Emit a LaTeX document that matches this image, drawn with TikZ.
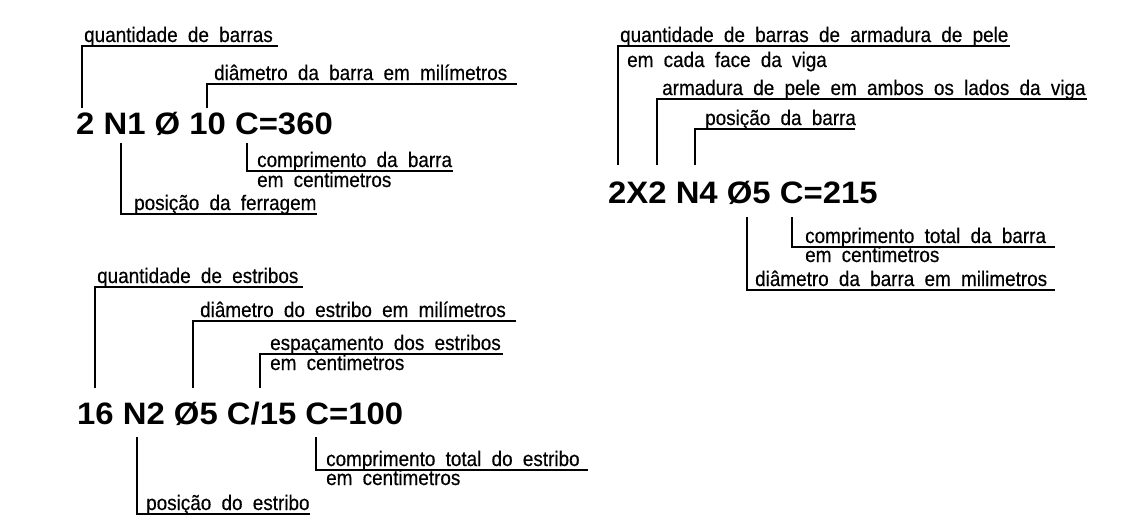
\documentclass[tikz,border=0pt]{standalone}
\usepackage{fontspec}
\setmainfont{Liberation Sans}
\newfontfamily\cadfont[FakeStretch=0.9, WordSpace=1.95, FakeBold=0.4]{Liberation Sans}
\newfontfamily\codfont[FakeStretch=1.06]{Liberation Sans}
\usetikzlibrary{calc}
\tikzset{
	lbl/.style={font=\cadfont\fontsize{21}{21}\selectfont, inner sep=0, anchor=base west},
	cod/.style={font=\codfont\fontsize{31}{31}\selectfont\bfseries, inner sep=0, anchor=base west},
	ldr/.style={line width=1.3pt}
}
\def\leader(#1)(#2){\draw[ldr] (#1) |- (#2);}

\begin{document}
\begin{tikzpicture}[x=1pt, y=-1pt]
		%%%%% START %%%%%
		\useasboundingbox (0, 0) rectangle (1130, 523);
		
		%%%%% barra longitudinal %%%%%
		\node[cod] (cod1) at (76, 134) {2 N1 Ø 10 C=360};
		\node[lbl] (qtd1) at (84, 42) {quantidade de barras};
		\node[lbl] (diam1) at (214, 80) {diâmetro da barra em milímetros};
		\node[lbl] (comp1) at (257, 167) {comprimento da barra};
		\node[lbl] (cm1) at (257, 187) {em centimetros};
		\node[lbl] (pos1) at (134, 210) {posição da ferragem};
		
		\coordinate (qtd1a) at (82, 108);  \coordinate (qtd1b) at (278, 46);
		\coordinate (diam1a) at (207, 108); \coordinate (diam1b) at (517, 84);
		\coordinate (comp1a) at (247, 143); \coordinate (comp1b) at (453, 171);
		\coordinate (pos1a) at (121, 143);  \coordinate (pos1b) at (317, 214);
		\leader(qtd1a)(qtd1b)
		\leader(diam1a)(diam1b)
		\leader(comp1a)(comp1b)
		\leader(pos1a)(pos1b)
		
		%%%%% estribos %%%%%
		\node[cod] (cod2) at (77, 424) {16 N2 Ø5 C/15 C=100};
		\node[lbl] (qtd2) at (97, 283) {quantidade de estribos};
		\node[lbl] (diam2) at (200, 317) {diâmetro do estribo em milímetros};
		\node[lbl] (esp2) at (270, 350) {espaçamento dos estribos};
		\node[lbl] (cm2) at (270, 370) {em centimetros};
		\node[lbl] (comp2) at (326, 466) {comprimento total do estribo};
		\node[lbl] (cm2b) at (326, 485) {em centimetros};
		\node[lbl] (pos2) at (146, 510) {posição do estribo};
		
		\coordinate (qtd2a) at (95, 388);   \coordinate (qtd2b) at (303, 287);
		\coordinate (diam2a) at (193, 388); \coordinate (diam2b) at (516, 321);
		\coordinate (esp2a) at (260, 388);  \coordinate (esp2b) at (503, 354);
		\coordinate (comp2a) at (316, 437); \coordinate (comp2b) at (588, 470);
		\coordinate (pos2a) at (137, 437);  \coordinate (pos2b) at (310, 514);
		\leader(qtd2a)(qtd2b)
		\leader(diam2a)(diam2b)
		\leader(esp2a)(esp2b)
		\leader(comp2a)(comp2b)
		\leader(pos2a)(pos2b)
		
		%%%%% armadura de pele %%%%%
		\node[cod] (cod3) at (608, 203) {2X2 N4 Ø5 C=215};
		\node[lbl] (qtd3) at (620, 42) {quantidade de barras de armadura de pele};
		\node[lbl] (face3) at (627, 67) {em cada face da viga};
		\node[lbl] (lado3) at (662, 95) {armadura de pele em ambos os lados da viga};
		\node[lbl] (pos3) at (705, 125) {posição da barra};
		\node[lbl] (comp3) at (805, 243) {comprimento total da barra};
		\node[lbl] (cm3) at (805, 262) {em centimetros};
		\node[lbl] (diam3) at (755, 286) {diâmetro da barra em milimetros};
		
		\coordinate (qtd3a) at (618, 165);  \coordinate (qtd3b) at (1010, 46);
		\coordinate (lado3a) at (657, 165); \coordinate (lado3b) at (1087, 99);
		\coordinate (pos3a) at (695, 165);  \coordinate (pos3b) at (855, 129);
		\coordinate (comp3a) at (792, 217); \coordinate (comp3b) at (1055, 247);
		\coordinate (diam3a) at (747, 217); \coordinate (diam3b) at (1055, 290);
		\leader(qtd3a)(qtd3b)
		\leader(lado3a)(lado3b)
		\leader(pos3a)(pos3b)
		\leader(comp3a)(comp3b)
		\leader(diam3a)(diam3b)
		%%%%% END %%%%%
	\end{tikzpicture}
\end{document}
